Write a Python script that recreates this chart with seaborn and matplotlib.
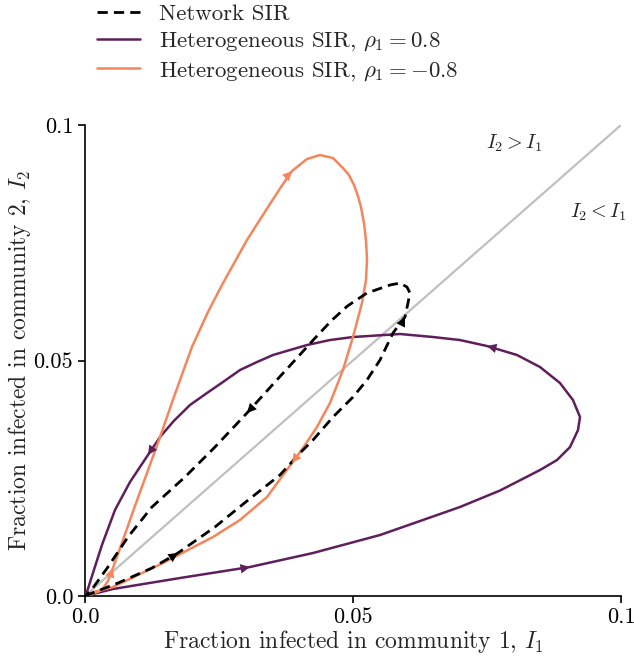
import numpy as np
import pandas as pd
import matplotlib
matplotlib.use("Agg")
import matplotlib.pyplot as plt
import seaborn as sns

# ---- data (I1, I2) ----
het_pos_I1 = [0.0, 0.00522, 0.01772, 0.03078, 0.04254, 0.05504, 0.06250, 0.06996, 0.07743,
              0.08489, 0.08806, 0.09049, 0.09198, 0.09235, 0.09104, 0.08862, 0.08489,
              0.08060, 0.07500, 0.06996, 0.06493, 0.05877, 0.05000, 0.04571, 0.04142,
              0.03825, 0.03507, 0.03209, 0.02892, 0.02575, 0.02276, 0.01959, 0.01660,
              0.01410, 0.01175, 0.00840, 0.00560, 0.00317, 0.00149, 0.00037, 0.0]
het_pos_I2 = [0.0, 0.00149, 0.00382, 0.00616, 0.00913, 0.01295, 0.01592, 0.01890, 0.02240,
              0.02675, 0.02887, 0.03163, 0.03524, 0.03800, 0.04161, 0.04522, 0.04862,
              0.05117, 0.05308, 0.05435, 0.05499, 0.05563, 0.05499, 0.05435, 0.05329,
              0.05223, 0.05117, 0.04968, 0.04798, 0.04544, 0.04310, 0.04055, 0.03720,
              0.03390, 0.02994, 0.02420, 0.01826, 0.01083, 0.00488, 0.00085, 0.0]

het_neg_I1 = [0.0, 0.00131, 0.00317, 0.00429, 0.00522, 0.00709, 0.00933, 0.01157, 0.01381,
              0.01660, 0.01996, 0.02295, 0.02556, 0.03022, 0.03451, 0.03657, 0.03862,
              0.04142, 0.04384, 0.04627, 0.04813, 0.04925, 0.05019, 0.05093, 0.05149,
              0.05205, 0.05243, 0.05261, 0.05243, 0.05168, 0.05000, 0.04813, 0.04571,
              0.04328, 0.04067, 0.03862, 0.03396, 0.02892, 0.02388, 0.01455, 0.00522,
              0.00093, 0.0]
het_neg_I2 = [0.0, 0.00042, 0.00127, 0.00318, 0.00594, 0.01189, 0.01911, 0.02611, 0.03312,
              0.04225, 0.05287, 0.06030, 0.06603, 0.07558, 0.08323, 0.08684, 0.09023,
              0.09278, 0.09363, 0.09299, 0.09087, 0.08938, 0.08726, 0.08493, 0.08259,
              0.07919, 0.07558, 0.07134, 0.06709, 0.06221, 0.05499, 0.04798, 0.04098,
              0.03588, 0.03142, 0.02824, 0.02102, 0.01614, 0.01253, 0.00701, 0.00191,
              0.00064, 0.0]

net_I1 = [0.0, 0.00187, 0.00616, 0.01250, 0.01735, 0.02425, 0.03022, 0.03638, 0.04011,
          0.04254, 0.04627, 0.05000, 0.05261, 0.05504, 0.05746, 0.05970, 0.06026, 0.06063,
          0.06007, 0.05877, 0.05690, 0.05261, 0.04900, 0.04600, 0.04254, 0.03960, 0.03638,
          0.03022, 0.02425, 0.01866, 0.01250, 0.00802, 0.00429, 0.00093, 0.0]
net_I2 = [0.0, 0.00085, 0.00276, 0.00594, 0.00913, 0.01465, 0.02017, 0.02569, 0.03036,
          0.03312, 0.03800, 0.04225, 0.04586, 0.05011, 0.05584, 0.05924, 0.06221, 0.06433,
          0.06561, 0.06645, 0.06603, 0.06433, 0.06160, 0.05850, 0.05430, 0.05060, 0.04660,
          0.03885, 0.03163, 0.02527, 0.01890, 0.01253, 0.00616, 0.00085, 0.0]

arrows_pos = [3, 18, 34]
arrows_neg = [4, 16, 35]
arrows_net = [4, 15, 27]

labels = ["Network SIR", r"Heterogeneous SIR, $\rho_1 = 0.8$", r"Heterogeneous SIR, $\rho_1 = -0.8$"]
ticks = [0.0, 0.05, 0.1]
tick_labels = ["0.0", "0.05", "0.1"]

c_pos = "#5e1f5c"
c_neg = "#f5865c"
c_net = "black"

sns.set_theme(style="ticks")
plt.rcParams["font.family"] = "serif"
plt.rcParams["font.serif"] = ["cmr10", "DejaVu Serif"]
plt.rcParams["mathtext.fontset"] = "cm"
plt.rcParams["axes.formatter.use_mathtext"] = True

fig = plt.figure(figsize=(6.34, 6.58), dpi=100)
ax = fig.add_axes([0.134, 0.0942, 0.8455, 0.7158])

ax.plot(ticks[::2], ticks[::2], color="#c0c0c0", lw=1.6, zorder=1)

df_net = pd.DataFrame({"I1": net_I1, "I2": net_I2})
df_pos = pd.DataFrame({"I1": het_pos_I1, "I2": het_pos_I2})
df_neg = pd.DataFrame({"I1": het_neg_I1, "I2": het_neg_I2})

sns.lineplot(data=df_net, x="I1", y="I2", sort=False, estimator=None, color=c_net,
             lw=2.0, ax=ax, label=labels[0], zorder=4)
ax.lines[-1].set_linestyle((0, (3.7, 2.2)))
sns.lineplot(data=df_pos, x="I1", y="I2", sort=False, estimator=None, color=c_pos,
             lw=1.8, ax=ax, label=labels[1], zorder=3)
sns.lineplot(data=df_neg, x="I1", y="I2", sort=False, estimator=None, color=c_neg,
             lw=1.8, ax=ax, label=labels[2], zorder=3)
for ln in ax.lines:
    ln.set_solid_joinstyle("round")
    ln.set_dash_joinstyle("round")


def add_arrows(xs, ys, idxs, color):
    xs = np.asarray(xs); ys = np.asarray(ys)
    for i in idxs:
        dx = xs[i + 1] - xs[i - 1]
        dy = ys[i + 1] - ys[i - 1]
        n = np.hypot(dx, dy)
        ax.annotate("", xy=(xs[i], ys[i]),
                    xytext=(xs[i] - 1e-4 * dx / n, ys[i] - 1e-4 * dy / n),
                    arrowprops=dict(arrowstyle="-|>", color=color, lw=0,
                                    mutation_scale=17, shrinkA=0, shrinkB=0),
                    zorder=5)


add_arrows(net_I1, net_I2, arrows_net, c_net)
add_arrows(het_pos_I1, het_pos_I2, arrows_pos, c_pos)
add_arrows(het_neg_I1, het_neg_I2, arrows_neg, c_neg)

ax.text(0.0748, 0.0962, r"$I_2 > I_1$", fontsize=14.5, va="center", ha="left")
ax.text(0.0905, 0.0814, r"$I_2 < I_1$", fontsize=14.5, va="center", ha="left")

ax.set_xlim(0, 0.1)
ax.set_ylim(0, 0.1)
ax.set_xticks(ticks)
ax.set_xticklabels(tick_labels)
ax.set_yticks(ticks)
ax.set_yticklabels(tick_labels)
ax.tick_params(labelsize=16, length=5, width=1.2, colors="black")
ax.set_xlabel(r"Fraction infected in community 1, $I_1$", fontsize=17, labelpad=0.5)
ax.set_ylabel(r"Fraction infected in community 2, $I_2$", fontsize=17, labelpad=0.5)
for s in ["left", "bottom"]:
    ax.spines[s].set_color("black")
    ax.spines[s].set_linewidth(1.2)
sns.despine(ax=ax)

ax.legend(loc="lower left", bbox_to_anchor=(0.005, 1.07), frameon=False, fontsize=16.5,
          borderaxespad=0, handlelength=1.9, labelspacing=0.3, handletextpad=0.8)

fig.savefig("out.png", dpi=100)
